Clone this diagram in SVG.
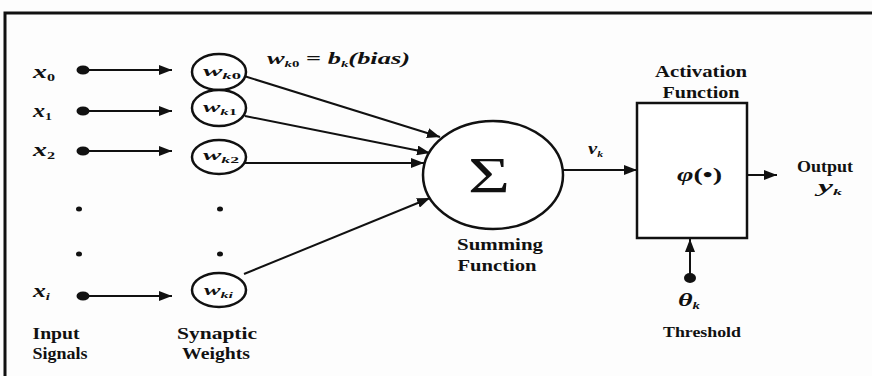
<svg xmlns="http://www.w3.org/2000/svg" width="872" height="376" viewBox="0 0 872 376">
<defs>
<style>
text{font-family:"Liberation Serif","Times New Roman",serif;font-weight:bold;fill:#111}
.lbl{font-size:17px}
.it{font-style:italic}
.ln{stroke:#111;stroke-width:2;fill:none}
.nd{stroke:#111;stroke-width:2.5;fill:#fff}
.dot{fill:#111}
</style>
<marker id="ah" markerUnits="userSpaceOnUse" markerWidth="14" markerHeight="10" refX="13" refY="5" orient="auto">
<path d="M0,0 L13,5 L0,10 Z" fill="#111"/>
</marker>
</defs>
<rect x="0" y="0" width="872" height="376" fill="#fdfdfd"/>
<path d="M5,376 V13 H872" stroke="#111" stroke-width="3" fill="none"/>

<g id="connectors">
<line class="ln" x1="83" y1="70" x2="172" y2="70" marker-end="url(#ah)"/>
<line class="ln" x1="83" y1="111" x2="172" y2="111" marker-end="url(#ah)"/>
<line class="ln" x1="83" y1="151" x2="172" y2="151" marker-end="url(#ah)"/>
<line class="ln" x1="83" y1="296" x2="172" y2="296" marker-end="url(#ah)"/>
<line class="ln" x1="244" y1="76" x2="440" y2="137" marker-end="url(#ah)"/>
<line class="ln" x1="245" y1="116" x2="430" y2="153" marker-end="url(#ah)"/>
<line class="ln" x1="245" y1="163" x2="424" y2="163" marker-end="url(#ah)"/>
<line class="ln" x1="244" y1="274" x2="430" y2="198" marker-end="url(#ah)"/>
<line class="ln" x1="563" y1="170" x2="637" y2="170" marker-end="url(#ah)"/>
<line class="ln" x1="747" y1="175" x2="777" y2="175" marker-end="url(#ah)"/>
<line class="ln" x1="690" y1="278" x2="690" y2="239" marker-end="url(#ah)"/>
</g>

<g id="inputs">
<ellipse class="dot" cx="83" cy="70" rx="6.5" ry="4.5"/>
<ellipse class="dot" cx="83" cy="111" rx="6.5" ry="4.5"/>
<ellipse class="dot" cx="83" cy="151" rx="6.5" ry="4.5"/>
<ellipse class="dot" cx="83" cy="296" rx="6.5" ry="4.5"/>
<ellipse class="dot" cx="79" cy="209" rx="3" ry="2.5"/>
<ellipse class="dot" cx="79" cy="254" rx="3" ry="2.5"/>
<text x="33" y="78" font-size="19" textLength="22" lengthAdjust="spacingAndGlyphs"><tspan class="it">x</tspan><tspan font-size="11" dy="3">0</tspan></text>
<text x="33" y="117" font-size="19" textLength="19" lengthAdjust="spacingAndGlyphs"><tspan class="it">x</tspan><tspan font-size="11" dy="3">1</tspan></text>
<text x="33" y="156" font-size="19" textLength="22" lengthAdjust="spacingAndGlyphs"><tspan class="it">x</tspan><tspan font-size="11" dy="3">2</tspan></text>
<text x="33" y="297" font-size="19" textLength="17" lengthAdjust="spacingAndGlyphs"><tspan class="it">x</tspan><tspan class="it" font-size="11" dy="3">i</tspan></text>
<text class="lbl" x="56" y="339" text-anchor="middle" textLength="47" lengthAdjust="spacingAndGlyphs">Input</text>
<text class="lbl" x="60" y="359" text-anchor="middle" textLength="55" lengthAdjust="spacingAndGlyphs">Signals</text>
</g>

<g id="weights">
<ellipse class="nd" cx="219" cy="72" rx="27" ry="18"/>
<ellipse class="nd" cx="219" cy="108" rx="27" ry="18"/>
<ellipse class="nd" cx="219" cy="157" rx="27" ry="17"/>
<ellipse class="nd" cx="219" cy="290" rx="27" ry="17"/>
<ellipse class="dot" cx="220" cy="209" rx="3" ry="2.5"/>
<ellipse class="dot" cx="220" cy="254" rx="3" ry="2.5"/>
<text x="203" y="76" font-size="14" textLength="38" lengthAdjust="spacingAndGlyphs"><tspan class="it">w</tspan><tspan class="it" font-size="9" dy="3">k</tspan><tspan font-size="9">0</tspan></text>
<text x="203" y="112" font-size="14" textLength="34" lengthAdjust="spacingAndGlyphs"><tspan class="it">w</tspan><tspan class="it" font-size="9" dy="3">k</tspan><tspan font-size="9">1</tspan></text>
<text x="203" y="160" font-size="14" textLength="36" lengthAdjust="spacingAndGlyphs"><tspan class="it">w</tspan><tspan class="it" font-size="9" dy="3">k</tspan><tspan font-size="9">2</tspan></text>
<text x="204" y="295" font-size="14" textLength="29" lengthAdjust="spacingAndGlyphs"><tspan class="it">w</tspan><tspan class="it" font-size="9" dy="3">ki</tspan></text>
<text class="lbl" x="217" y="339" text-anchor="middle" textLength="80" lengthAdjust="spacingAndGlyphs">Synaptic</text>
<text class="lbl" x="216" y="359" text-anchor="middle" textLength="68" lengthAdjust="spacingAndGlyphs">Weights</text>
</g>

<g id="bias-label">
<text x="267" y="64" font-size="16" textLength="143" lengthAdjust="spacingAndGlyphs"><tspan class="it">w</tspan><tspan font-size="9" dy="3"><tspan class="it">k</tspan>0</tspan><tspan dy="-3"> = </tspan><tspan class="it">b</tspan><tspan class="it" font-size="9" dy="3">k</tspan><tspan class="it" dy="-3">(bias)</tspan></text>
</g>

<g id="summing">
<ellipse class="nd" cx="493" cy="175" rx="70" ry="54"/>
<text x="468" y="192" font-size="50" style="font-weight:normal" textLength="42" lengthAdjust="spacingAndGlyphs">Σ</text>
<text class="lbl" x="500" y="250" text-anchor="middle" textLength="86" lengthAdjust="spacingAndGlyphs">Summing</text>
<text class="lbl" x="497" y="271" text-anchor="middle" textLength="79" lengthAdjust="spacingAndGlyphs">Function</text>
<text x="588" y="154" font-size="16" textLength="15" lengthAdjust="spacingAndGlyphs"><tspan class="it">v</tspan><tspan class="it" font-size="9" dy="3">k</tspan></text>
</g>

<g id="activation">
<rect x="637" y="103" width="110" height="135" fill="#fff" stroke="#111" stroke-width="2.5"/>
<text class="lbl" x="701" y="77" text-anchor="middle" textLength="92" lengthAdjust="spacingAndGlyphs">Activation</text>
<text class="lbl" x="701" y="98" text-anchor="middle" textLength="77" lengthAdjust="spacingAndGlyphs">Function</text>
<text x="677" y="181" font-size="18" textLength="45" lengthAdjust="spacingAndGlyphs"><tspan class="it">φ</tspan>(•)</text>
</g>

<g id="output">
<text class="lbl" x="825" y="172" text-anchor="middle" textLength="56" lengthAdjust="spacingAndGlyphs">Output</text>
<text x="818" y="192" font-size="17" textLength="24" lengthAdjust="spacingAndGlyphs"><tspan class="it">y</tspan><tspan class="it" font-size="9" dy="3">k</tspan></text>
</g>

<g id="threshold">
<ellipse class="dot" cx="690" cy="278" rx="6" ry="5"/>
<text x="678" y="306" font-size="19" textLength="22" lengthAdjust="spacingAndGlyphs"><tspan class="it">θ</tspan><tspan class="it" font-size="10" dy="3">k</tspan></text>
<text x="702" y="337" font-size="14" text-anchor="middle" textLength="78" lengthAdjust="spacingAndGlyphs">Threshold</text>
</g>
</svg>
